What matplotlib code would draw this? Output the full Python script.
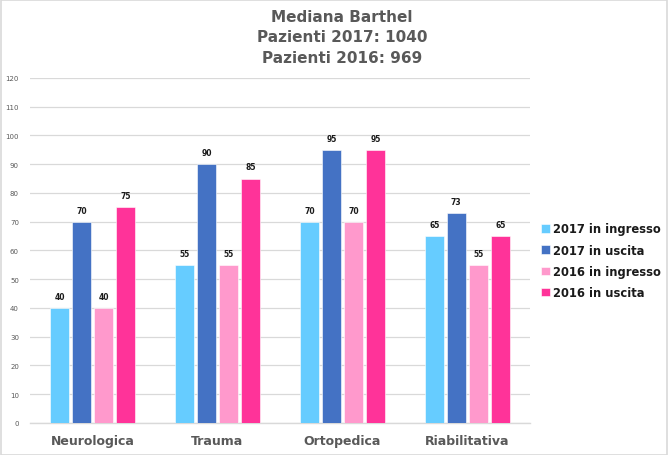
import matplotlib
matplotlib.use('Agg')
import matplotlib.pyplot as plt
from matplotlib.patches import Rectangle
import numpy as np

categories = ['Neurologica', 'Trauma', 'Ortopedica', 'Riabilitativa']
series_names = ['2017 in ingresso', '2017 in uscita', '2016 in ingresso', '2016 in uscita']
ingresso_2017 = [40, 55, 70, 65]
uscita_2017 = [70, 90, 95, 73]
ingresso_2016 = [40, 55, 70, 55]
uscita_2016 = [75, 85, 95, 65]
colors = ['#66CCFF', '#4472C4', '#FF99CC', '#FF3399']
title_lines = ['Mediana Barthel', 'Pazienti 2017: 1040', 'Pazienti 2016: 969']

grey = '#595959'
plt.rcParams['font.family'] = ['DejaVu Sans']

fig = plt.figure(figsize=(6.68, 4.56), dpi=100)
ax = fig.add_axes([0.045, 0.0702, 0.748, 0.7566])

x = np.arange(len(categories))
slot = 0.176
width = 0.15
all_series = [ingresso_2017, uscita_2017, ingresso_2016, uscita_2016]
for i, (vals, col, name) in enumerate(zip(all_series, colors, series_names)):
    pos = x + (i - 1.5) * slot
    bars = ax.bar(pos, vals, width, color=col, label=name, zorder=3,
                  edgecolor='white', linewidth=0.4)
    for b, v in zip(bars, vals):
        ax.text(b.get_x() + b.get_width() / 2, v + 2.5, str(v), ha='center',
                va='bottom', fontsize=5.5, fontweight='bold', color='#1a1a1a')

ax.set_xlim(-0.5, len(categories) - 0.5)
ax.set_ylim(0, 120)
ax.set_yticks(range(0, 121, 10))
ax.grid(axis='y', color='#d9d9d9', linewidth=0.9, zorder=0)
ax.tick_params(axis='y', length=0, labelsize=5, labelcolor=grey, pad=8)
ax.tick_params(axis='x', length=0, labelsize=9, labelcolor=grey, pad=8)
ax.set_xticks(x)
ax.set_xticklabels(categories, fontweight='bold')
for s in ['top', 'right', 'left']:
    ax.spines[s].set_visible(False)
ax.spines['bottom'].set_color('#d9d9d9')
ax.spines['bottom'].set_linewidth(1)

for k, line in enumerate(title_lines):
    fig.text(0.512, 0.962 - k * 0.045, line, ha='center', va='center',
             fontsize=11, fontweight='bold', color=grey)

leg = ax.legend(loc='center left', bbox_to_anchor=(1.0, 0.47), frameon=False,
                prop={'size': 8.3, 'weight': 'bold'}, handlelength=0.75,
                handleheight=0.75, handletextpad=0.3, labelspacing=0.72,
                borderaxespad=0.6)
for t in leg.get_texts():
    t.set_color('#1a1a1a')

fig.patches.append(Rectangle((0.001, 0.001), 0.997, 0.997, transform=fig.transFigure,
                             fill=False, edgecolor='#d9d9d9', linewidth=1.2))

fig.savefig('out.png', dpi=100, facecolor='white')
